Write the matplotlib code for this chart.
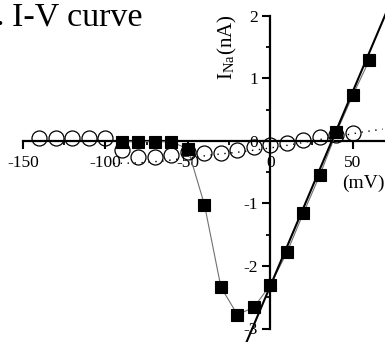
import matplotlib
matplotlib.use("Agg")
import matplotlib.pyplot as plt

plt.rcParams['font.family'] = ['Liberation Serif', 'DejaVu Serif']
plt.rcParams['mathtext.fontset'] = 'stix'

# Na current, filled squares (mV, nA)
sq_v = [-90, -80, -70, -60, -50, -40, -30, -20, -10, 0, 10, 20, 30, 40, 50, 60]
sq_i = [-0.01, -0.01, -0.01, -0.01, -0.13, -1.02, -2.34, -2.78, -2.66, -2.30,
        -1.78, -1.15, -0.54, 0.14, 0.74, 1.30]

# open circles
circ_v = [-140, -130, -120, -110, -100, -90, -80, -70, -60, -50, -40, -30,
          -20, -10, 0, 10, 20, 30, 40, 50]
circ_i = [0.04, 0.04, 0.04, 0.04, 0.04, -0.14, -0.26, -0.26, -0.22, -0.18,
          -0.19, -0.19, -0.14, -0.10, -0.06, -0.03, 0.02, 0.06, 0.10, 0.13]

# dotted fit through the circles
dot_v = [-95, -80, -65, -50, -35, -20, -5, 10, 25, 40, 55, 68]
dot_i = [-0.36, -0.35, -0.32, -0.27, -0.22, -0.18, -0.13, -0.07, 0.0, 0.07, 0.14, 0.19]

# linear fit of the rising phase
fit_v = [-16, 72]
fit_i = [-3.31, 2.17]

x_ticks = [-150, -100, -50, 0, 50]
x_minor = [-125, -75, -25, 25]
y_ticks = [-3, -2, -1, 0, 1, 2]
y_minor = [-2.5, -1.5, -0.5, 0.5, 1.5]

fig = plt.figure(figsize=(3.85, 3.42), dpi=100)
ax = fig.add_axes([0, 0, 1, 1])
ax.set_xlim(-163.9, 69.4)
ax.set_ylim(-3.216, 2.256)

# axes through the origin
for side in ['top', 'right']:
    ax.spines[side].set_visible(False)
ax.spines['left'].set_position(('data', 0))
ax.spines['bottom'].set_position(('data', 0))
ax.spines['left'].set_bounds(-3, 2)
ax.spines['bottom'].set_bounds(-150, 75)
for side in ['left', 'bottom']:
    ax.spines[side].set_linewidth(1.6)

ax.set_xticks(x_ticks)
ax.set_xticks(x_minor, minor=True)
ax.set_yticks(y_ticks)
ax.set_yticks(y_minor, minor=True)
ax.set_xticklabels([str(t) for t in x_ticks])
ax.set_yticklabels([str(t) for t in y_ticks])
ax.tick_params(which='major', direction='out', length=6, width=1.5,
               labelsize=12.5)
ax.tick_params(which='minor', direction='out', length=3, width=1.3)
ax.tick_params(axis='x', pad=4)
ax.tick_params(axis='y', pad=3)

ax.plot(fit_v, fit_i, color='black', lw=1.5, zorder=5)
ax.plot(dot_v, dot_i, color='black', lw=1.0, linestyle=(0, (1, 4)), zorder=2)
ax.plot(sq_v, sq_i, color='#707070', lw=0.8, marker='s', ms=9,
        mfc='black', mec='black', mew=0.8, zorder=3)
ax.plot(circ_v, circ_i, linestyle='none', marker='o', ms=10.8,
        mfc='none', mec='black', mew=0.9, zorder=4)

ax.text(56, -0.68, '(mV)', ha='center', va='center', fontsize=14)
fig.text(227 / 385, 1 - 47 / 342, r'I$_{\mathregular{Na}}$(nA)', rotation=90,
         ha='center', va='center', fontsize=15)
fig.text(12 / 385, 1 - 25 / 342, 'I-V curve', ha='left', va='baseline',
         fontsize=24.5)
# panel letter cropped off at the left edge, only its period shows
fig.text(-4 / 385, 1 - 25 / 342, '.', ha='left', va='baseline', fontsize=24.5)

fig.savefig('out.png', dpi=100)
